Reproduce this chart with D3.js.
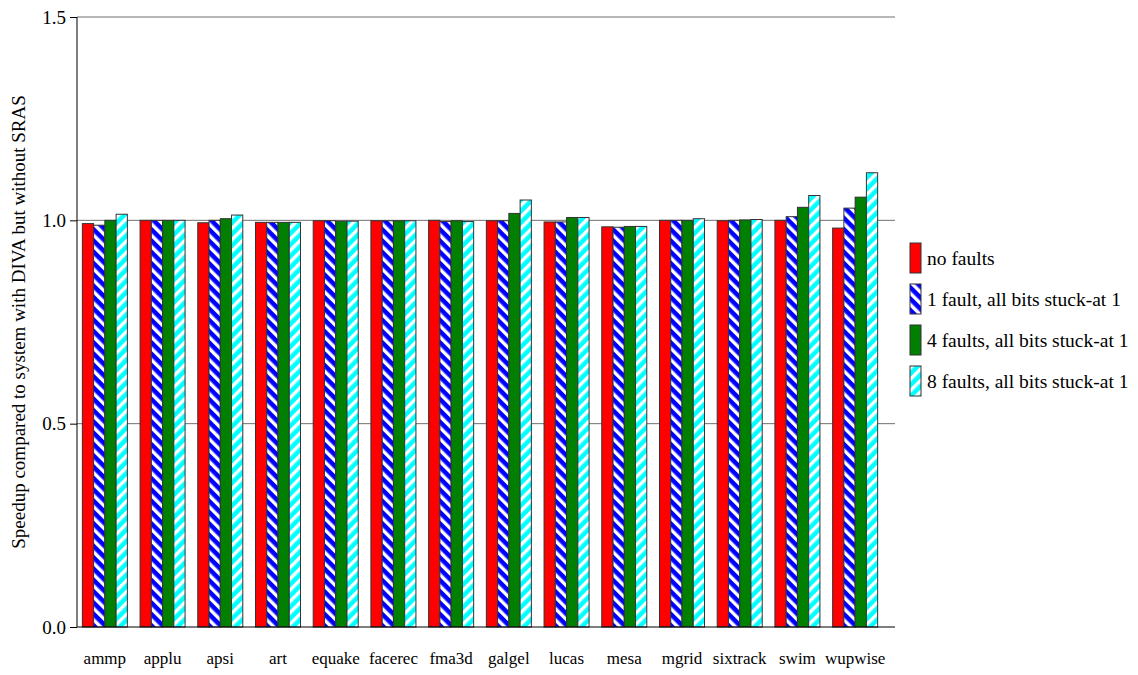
<!DOCTYPE html>
<html>
<head>
<meta charset="utf-8">
<script src="https://cdn.jsdelivr.net/npm/d3@7"></script>
<style>
  body { margin: 0; background: #fff; }
  text { font-family: "Liberation Serif", "DejaVu Serif", serif; fill: #000; }
</style>
</head>
<body>
<div id="chart"></div>
<script>
// Benchmarks and speedups
const categories = ['ammp', 'applu', 'apsi', 'art', 'equake', 'facerec', 'fma3d', 'galgel', 'lucas', 'mesa', 'mgrid', 'sixtrack', 'swim', 'wupwise'];
const seriesNames = ['no faults', '1 fault, all bits stuck-at 1', '4 faults, all bits stuck-at 1', '8 faults, all bits stuck-at 1'];
const noFaults    = [0.992, 1.0, 0.994, 0.995, 0.999, 0.999, 1.0, 0.999, 0.996, 0.984, 1.0, 0.999, 1.0, 0.981];
const oneFault    = [0.988, 1.0, 1.0, 0.995, 0.999, 0.999, 0.997, 0.999, 0.996, 0.983, 1.0, 1.0, 1.009, 1.03];
const fourFaults  = [1.0, 1.0, 1.004, 0.995, 0.998, 0.999, 0.999, 1.017, 1.007, 0.985, 1.0, 1.001, 1.032, 1.057];
const eightFaults = [1.015, 1.0, 1.013, 0.995, 0.998, 0.999, 0.997, 1.05, 1.007, 0.985, 1.004, 1.002, 1.061, 1.117];
const yTicks = [0.0, 0.5, 1.0, 1.5];

const series = [noFaults, oneFault, fourFaults, eightFaults];
const fills = ['#ff0000', 'url(#stripeBlue)', '#007f00', 'url(#stripeCyan)'];

const width = 1138, height = 675;
const plot = { left: 77, right: 895, top: 17, bottom: 627 };

const svg = d3.select('#chart').append('svg')
  .attr('width', width)
  .attr('height', height);

// hatch patterns
const defs = svg.append('defs');
function addStripes(id, bg, angle) {
  const p = defs.append('pattern')
    .attr('id', id)
    .attr('patternUnits', 'userSpaceOnUse')
    .attr('width', 8).attr('height', 8)
    .attr('patternTransform', `rotate(${angle})`);
  p.append('rect').attr('width', 8).attr('height', 8).attr('fill', bg);
  p.append('rect').attr('x', 0).attr('width', 3.4).attr('height', 8).attr('fill', '#fff');
}
addStripes('stripeBlue', '#0000ff', -45);
addStripes('stripeCyan', '#00ffff', 45);

const x0 = d3.scaleBand()
  .domain(categories)
  .range([76, 884])
  .paddingInner(0.22)
  .paddingOuter(0.11);

const x1 = d3.scaleBand()
  .domain(d3.range(series.length))
  .range([0, x0.bandwidth()]);

const y = d3.scaleLinear()
  .domain([0, 1.5])
  .range([plot.bottom, plot.top]);

// gridlines
svg.append('g')
  .selectAll('line')
  .data(yTicks.filter(t => t > 0))
  .enter().append('line')
  .attr('x1', plot.left).attr('x2', plot.right)
  .attr('y1', d => y(d)).attr('y2', d => y(d))
  .attr('stroke', '#707070')
  .attr('stroke-width', 1);

// bars
const group = svg.append('g')
  .selectAll('g')
  .data(categories)
  .enter().append('g')
  .attr('transform', d => `translate(${x0(d)},0)`);

group.selectAll('rect')
  .data((d, i) => series.map((s, k) => ({ k, v: s[i] })))
  .enter().append('rect')
  .attr('x', d => x1(d.k))
  .attr('y', d => y(d.v))
  .attr('width', x1.bandwidth())
  .attr('height', d => y(0) - y(d.v))
  .attr('fill', d => fills[d.k])
  .attr('stroke', '#333')
  .attr('stroke-width', 1);

// left axis
const yAxis = d3.axisLeft(y)
  .tickValues(yTicks)
  .tickFormat(d3.format('.1f'))
  .tickSize(7)
  .tickPadding(4);

const yg = svg.append('g')
  .attr('transform', `translate(${plot.left},0)`)
  .call(yAxis);
yg.select('.domain').attr('d', `M0,${plot.top}V${plot.bottom}`).attr('stroke', '#000');
yg.selectAll('.tick line').attr('stroke', '#000');
yg.selectAll('.tick text')
  .style('font-family', '"Liberation Serif", serif')
  .style('font-size', '19px');

// bottom baseline
svg.append('line')
  .attr('x1', plot.left).attr('x2', plot.right)
  .attr('y1', plot.bottom).attr('y2', plot.bottom)
  .attr('stroke', '#000');

// category labels
svg.append('g')
  .selectAll('text')
  .data(categories)
  .enter().append('text')
  .attr('x', d => x0(d) + x0.bandwidth() / 2)
  .attr('y', 664)
  .attr('text-anchor', 'middle')
  .style('font-size', '17px')
  .text(d => d);

// y title
svg.append('text')
  .attr('transform', `translate(25,${(plot.top + plot.bottom) / 2}) rotate(-90)`)
  .attr('text-anchor', 'middle')
  .style('font-size', '19px')
  .text('Speedup compared to system with DIVA but without SRAS');

// legend
const legend = svg.append('g')
  .selectAll('g')
  .data(seriesNames)
  .enter().append('g')
  .attr('transform', (d, i) => `translate(910,${243 + i * 41})`);

legend.append('rect')
  .attr('width', 11)
  .attr('height', 30)
  .attr('fill', (d, i) => fills[i])
  .attr('stroke', '#333');

legend.append('text')
  .attr('x', 17)
  .attr('y', 22)
  .style('font-size', '19.5px')
  .text(d => d);
</script>
</body>
</html>
